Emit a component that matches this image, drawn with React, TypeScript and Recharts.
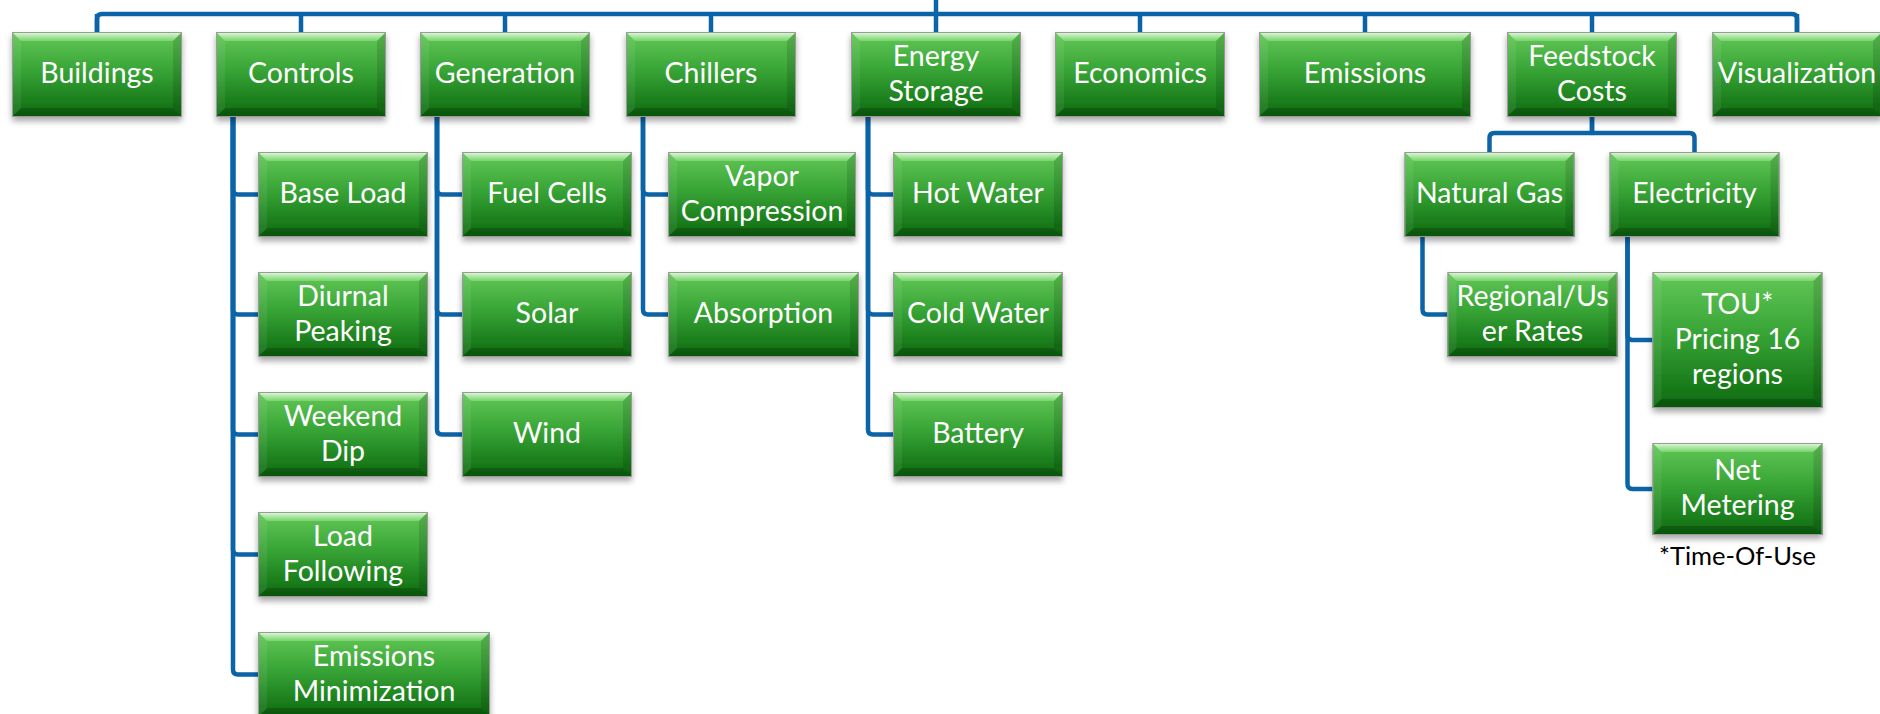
import { ScatterChart, Scatter, XAxis, YAxis } from 'recharts';

// ---- diagram content ----
const topics = ['Buildings', 'Controls', 'Generation', 'Chillers', 'Energy\nStorage', 'Economics', 'Emissions', 'Feedstock\nCosts', 'Visualization'];
const controlsItems = ['Base Load', 'Diurnal\nPeaking', 'Weekend\nDip', 'Load\nFollowing', 'Emissions\nMinimization'];
const generationItems = ['Fuel Cells', 'Solar', 'Wind'];
const chillerItems = ['Vapor\nCompression', 'Absorption'];
const storageItems = ['Hot Water', 'Cold Water', 'Battery'];
const feedstockItems = ['Natural Gas', 'Electricity'];
const gasItems = ['Regional/Us\ner Rates'];
const electricityItems = ['TOU*\nPricing 16\nregions', 'Net\nMetering'];
const footnote = '*Time-Of-Use';

// ---- layout (axes map 1 unit = 1 px) ----
const W = 1880;
const H = 714;
const TOP_LEFT = [12, 216, 420, 626, 851, 1055, 1259, 1507, 1712];
const BOX_W = 170;
const BOX_H = 85;
const BOX_W_OVERRIDE: Record<string, number> = {
  'Emissions': 212,
  'Emissions\nMinimization': 232,
  'Vapor\nCompression': 188,
  'Absorption': 191,
};
const BOX_H_OVERRIDE: Record<string, number> = {
  'TOU*\nPricing 16\nregions': 136,
  'Net\nMetering': 92,
};
const BAR_Y = 14;
const TOP_Y = 32;
const ROW_GAP = 35;
const INDENT = 42;
const LINE_OFF = 17;
const FORK_PITCH = 205;
const R = 5;
const LINE = '#0b63a8';

type Node = { x: number; y: number; w: number; h: number; label: string; link: string; note?: string };

const nodes: Node[] = [];
const add = (left: number, top: number, label: string, link: string, note?: string) => {
  const w = BOX_W_OVERRIDE[label] ?? BOX_W;
  const h = BOX_H_OVERRIDE[label] ?? BOX_H;
  nodes.push({ x: left + w / 2, y: top + h / 2, w, h, label, link, note });
  return { left, top, w, h };
};

const elbow = (lx: number, y0: number, y1: number, x1: number) =>
  `M${lx},${y0} V${y1 - R} Q${lx},${y1} ${lx + R},${y1} H${x1}`;

// vertical list of children hanging off a parent box
const list = (parent: { left: number; top: number; h: number }, items: string[], note?: string) => {
  const lx = parent.left + LINE_OFF;
  let top = parent.top + parent.h + ROW_GAP;
  items.forEach((t, j) => {
    const h = BOX_H_OVERRIDE[t] ?? BOX_H;
    add(parent.left + INDENT, top, t, elbow(lx, parent.top + parent.h, top + h / 2, parent.left + INDENT),
      note && j === items.length - 1 ? note : undefined);
    top += h + ROW_GAP;
  });
};

// top row
const tops = topics.map((t, i) => {
  const w = BOX_W_OVERRIDE[t] ?? BOX_W;
  return add(TOP_LEFT[i], TOP_Y, t, `M${TOP_LEFT[i] + w / 2},${BAR_Y} V${TOP_Y}`);
});
const c0 = tops[0].left + tops[0].w / 2;
const cN = tops[tops.length - 1].left + tops[tops.length - 1].w / 2;
const trunk = tops[4].left + tops[4].w / 2;
nodes.push({
  x: trunk, y: 0, w: 0, h: 0, label: '',
  link: `M${c0},${TOP_Y} V${BAR_Y + R} Q${c0},${BAR_Y} ${c0 + R},${BAR_Y} H${cN - R} Q${cN},${BAR_Y} ${cN},${BAR_Y + R} V${TOP_Y} M${trunk},0 V${BAR_Y}`,
});

list(tops[1], controlsItems);
list(tops[2], generationItems);
list(tops[3], chillerItems);
list(tops[4], storageItems);

// feedstock fork
const fp = tops[7];
const pc = fp.left + fp.w / 2;
const forkTop = fp.top + fp.h + ROW_GAP;
const forkBar = fp.top + fp.h + 16;
const forkBoxes = feedstockItems.map((t, j) => {
  const cc = pc + (j - (feedstockItems.length - 1) / 2) * FORK_PITCH;
  const s = cc < pc ? -1 : 1;
  const link = `M${pc},${fp.top + fp.h} V${forkBar} H${cc - s * R} Q${cc},${forkBar} ${cc},${forkBar + R} V${forkTop}`;
  return add(cc - BOX_W / 2, forkTop, t, link);
});
list({ ...forkBoxes[0], left: forkBoxes[0].left + 1 }, gasItems);
list({ ...forkBoxes[1], left: forkBoxes[1].left + 1 }, electricityItems, footnote);

const linkNodes = nodes.filter((n) => n.link);
const boxNodes = nodes.filter((n) => n.w > 0);

function LinkShape(props: any) {
  const { cx, cy, payload } = props;
  return (
    <path
      d={payload.link}
      transform={`translate(${cx - payload.x},${cy - payload.y})`}
      fill="none"
      stroke={LINE}
      strokeWidth={4.5}
      strokeLinejoin="round"
    />
  );
}

function NodeShape(props: any) {
  const { cx, cy, payload } = props;
  const { w, h, label, note } = payload as Node;
  const x = cx - w / 2;
  const y = cy - h / 2;
  const b = 9;
  const lines = label.split('\n');
  return (
    <g>
      <rect x={x} y={y} width={w} height={h} fill="url(#boxBody)" filter="url(#boxShadow)" />
      <polygon points={`${x},${y} ${x + w},${y} ${x + w - b},${y + b} ${x + b},${y + b}`} fill="url(#bevTop)" />
      <polygon points={`${x},${y} ${x + b},${y + b} ${x + b},${y + h - b} ${x},${y + h}`} fill="#ffffff" fillOpacity={0.07} />
      <polygon points={`${x + w},${y} ${x + w - b},${y + b} ${x + w - b},${y + h - b} ${x + w},${y + h}`} fill="#000000" fillOpacity={0.12} />
      <polygon points={`${x},${y + h} ${x + b},${y + h - b} ${x + w - b},${y + h - b} ${x + w},${y + h}`} fill="#000000" fillOpacity={0.2} />
      <rect x={x + 0.5} y={y + 0.5} width={w - 1} height={h - 1} fill="none" stroke="#9a9a9a" strokeWidth={1} />
      <text textAnchor="middle" fill="#ffffff" fontFamily="Lato, 'Open Sans', sans-serif" fontSize={28.5}>
        {lines.map((ln, i) => (
          <tspan key={i} x={cx} y={cy + 8.5 + (i - (lines.length - 1) / 2) * 35}>
            {ln}
          </tspan>
        ))}
      </text>
      {note && (
        <text x={cx} y={y + h + 30} textAnchor="middle" fill="#000000" fontFamily="Lato, 'Open Sans', sans-serif" fontSize={25.5}>
          {note}
        </text>
      )}
    </g>
  );
}

export default function App() {
  return (
    <div style={{ position: 'absolute', left: 0, top: 0, width: W, height: H, background: '#ffffff' }}>
      <ScatterChart width={W} height={H} margin={{ top: 0, right: 0, bottom: 0, left: 0 }}>
        <defs>
          <linearGradient id="boxBody" x1="0" y1="0" x2="0" y2="1">
            <stop offset="0" stopColor="#63c958" />
            <stop offset="0.45" stopColor="#38a436" />
            <stop offset="1" stopColor="#0c6a0e" />
          </linearGradient>
          <linearGradient id="bevTop" x1="0" y1="0" x2="0" y2="1">
            <stop offset="0" stopColor="#e2fadc" />
            <stop offset="1" stopColor="#78d36c" />
          </linearGradient>
          <filter id="boxShadow" x="-10%" y="-10%" width="120%" height="140%">
            <feDropShadow dx="0" dy="4" stdDeviation="3" floodColor="#000000" floodOpacity="0.35" />
          </filter>
        </defs>
        <XAxis type="number" dataKey="x" domain={[0, W]} allowDataOverflow hide />
        <YAxis type="number" dataKey="y" domain={[0, H]} allowDataOverflow reversed hide />
        <Scatter data={linkNodes} shape={LinkShape} isAnimationActive={false} />
        <Scatter data={boxNodes} shape={NodeShape} isAnimationActive={false} />
      </ScatterChart>
    </div>
  );
}
